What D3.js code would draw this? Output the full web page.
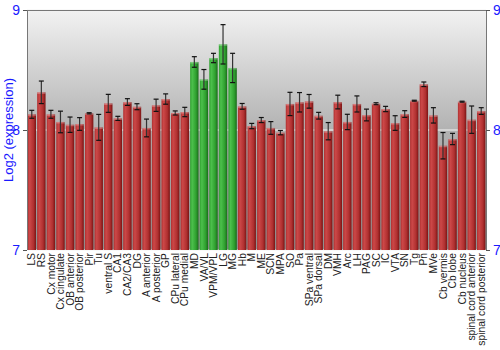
<!DOCTYPE html>
<html><head><meta charset="utf-8">
<script src="https://cdn.jsdelivr.net/npm/d3@7"></script>
<style>body{margin:0;background:#fff}svg{display:block}</style>
</head><body><svg id="c" width="500" height="350"></svg>
<script>
const categories = ["LS","RS","Cx motor","Cx cingulate","OB anterior","OB posterior","Pir","Tu","ventral S","CA1","CA2/CA3","DG","A anterior","A posterior","GP","CPu lateral","CPu medial","MD","VA/VL","VPM/VPL","LG","MG","Hb","M","ME","SCN","MPA","SO","Pa","SPa ventral","SPa dorsal","DM","VMH","Arc","LH","PAG","SC","IC","VTA","SN","Tg","Pn","MVe","Cb vermis","Cb lobe","Cb nucleus","spinal cord anterior","spinal cord posterior"];
const values = [8.131,8.314,8.131,8.067,8.044,8.050,8.139,8.022,8.222,8.097,8.233,8.194,8.017,8.206,8.258,8.142,8.150,8.567,8.422,8.600,8.714,8.517,8.197,8.033,8.083,8.017,7.978,8.217,8.231,8.239,8.119,7.990,8.233,8.067,8.217,8.125,8.219,8.175,8.058,8.133,8.244,8.381,8.122,7.869,7.925,8.236,8.086,8.158];
const errors = [0.033,0.094,0.033,0.090,0.064,0.053,0.005,0.108,0.075,0.017,0.028,0.025,0.074,0.051,0.043,0.017,0.039,0.044,0.082,0.039,0.164,0.122,0.024,0.022,0.021,0.053,0.018,0.097,0.081,0.057,0.028,0.072,0.057,0.064,0.067,0.049,0.008,0.022,0.061,0.028,0.004,0.019,0.064,0.110,0.047,0.004,0.114,0.028];
const highlighted = ["MD","VA/VL","VPM/VPL","LG","MG"];
const yTicks = [7,8,9];

const svg = d3.select("#c");
const L = 27, R = 486, T = 10, B = 250;
const x = d3.scaleBand().domain(categories).range([L, R]).paddingInner(0.12).paddingOuter(0.06);
const y = d3.scaleLinear().domain([7, 9]).range([B, T]);

const defs = svg.append("defs");
const bg = defs.append("linearGradient").attr("id","bg").attr("x1",0).attr("y1",0).attr("x2",0).attr("y2",1);
bg.append("stop").attr("offset","0%").attr("stop-color","#f2f2f2");
bg.append("stop").attr("offset","50%").attr("stop-color","#b2b2b2");
bg.append("stop").attr("offset","100%").attr("stop-color","#8e8e8e");
function barGrad(id, c1, c2, c3){
  const g = defs.append("linearGradient").attr("id",id).attr("x1",0).attr("y1",0).attr("x2",1).attr("y2",0);
  g.append("stop").attr("offset","0%").attr("stop-color",c2);
  g.append("stop").attr("offset","25%").attr("stop-color",c1);
  g.append("stop").attr("offset","70%").attr("stop-color",c2);
  g.append("stop").attr("offset","100%").attr("stop-color",c3);
}
barGrad("red","#cc4848","#b03030","#7a1414");
barGrad("green","#4cc04c","#2fa02f","#1a6a1a");

svg.append("rect").attr("x",L).attr("y",T).attr("width",R-L).attr("height",B-T).attr("fill","url(#bg)");
svg.append("g").selectAll("line").data(yTicks).join("line")
  .attr("x1",L).attr("x2",R).attr("y1",d=>y(d)).attr("y2",d=>y(d))
  .attr("stroke","#f4f4f4").attr("stroke-width",1.2);

const bars = svg.append("g").selectAll("g").data(categories).join("g");
bars.append("rect")
  .attr("x",d=>x(d)).attr("width",x.bandwidth())
  .attr("y",(d,i)=>y(values[i])).attr("height",(d,i)=>B-y(values[i]))
  .attr("fill",d=>highlighted.includes(d)?"url(#green)":"url(#red)");
bars.append("rect")
  .attr("x",d=>x(d)).attr("width",x.bandwidth())
  .attr("y",(d,i)=>y(values[i])).attr("height",1.5)
  .attr("fill","#fff").attr("opacity",0.3);

const eb = svg.append("g");
categories.forEach((c,i)=>{
  const cx = x(c)+x.bandwidth()/2;
  const y1 = y(values[i]+errors[i]), y2 = y(values[i]-errors[i]);
  eb.append("line").attr("x1",cx).attr("x2",cx).attr("y1",y1).attr("y2",y2).attr("stroke","#333").attr("stroke-width",1.2);
  [y1,y2].forEach(yy=>eb.append("line").attr("x1",cx-2.5).attr("x2",cx+2.5).attr("y1",yy).attr("y2",yy).attr("stroke","#111").attr("stroke-width",1.2));
});

// frame
svg.append("line").attr("x1",L).attr("x2",R).attr("y1",T+0.5).attr("y2",T+0.5).attr("stroke","#777");
svg.append("line").attr("x1",L+0.5).attr("x2",L+0.5).attr("y1",T).attr("y2",B).attr("stroke","#777");
svg.append("line").attr("x1",R+0.5).attr("x2",R+0.5).attr("y1",T).attr("y2",B).attr("stroke","#777");

const fontF = "'Liberation Sans', Arial, sans-serif";
const yl = svg.append("g").attr("transform",`translate(${L},0)`)
  .call(d3.axisLeft(y).tickValues(yTicks).tickFormat(d3.format("d")).tickSize(4).tickSizeOuter(0));
const yr = svg.append("g").attr("transform",`translate(${R},0)`)
  .call(d3.axisRight(y).tickValues(yTicks).tickFormat(d3.format("d")).tickSize(4).tickSizeOuter(0));
[yl,yr].forEach(g=>{
  g.select(".domain").remove();
  g.selectAll(".tick line").attr("stroke","#555");
  g.selectAll(".tick text").attr("fill","#1a1aff").style("font-family",fontF).style("font-size","14px");
});

const xa = svg.append("g").attr("transform",`translate(0,${B})`)
  .call(d3.axisBottom(x).tickSize(0));
xa.select(".domain").remove();
xa.selectAll(".tick text")
  .attr("transform","rotate(-90)").attr("x",-3).attr("y",0).attr("dy","0.35em")
  .attr("text-anchor","end").attr("fill","#222")
  .style("font-family",fontF).style("font-size","10.3px");

svg.append("text").attr("transform","translate(13,130) rotate(-90)")
  .attr("text-anchor","middle").attr("fill","#1a1aff")
  .style("font-family",fontF).style("font-size","13px").text("Log2 (expression)");
</script></body></html>
